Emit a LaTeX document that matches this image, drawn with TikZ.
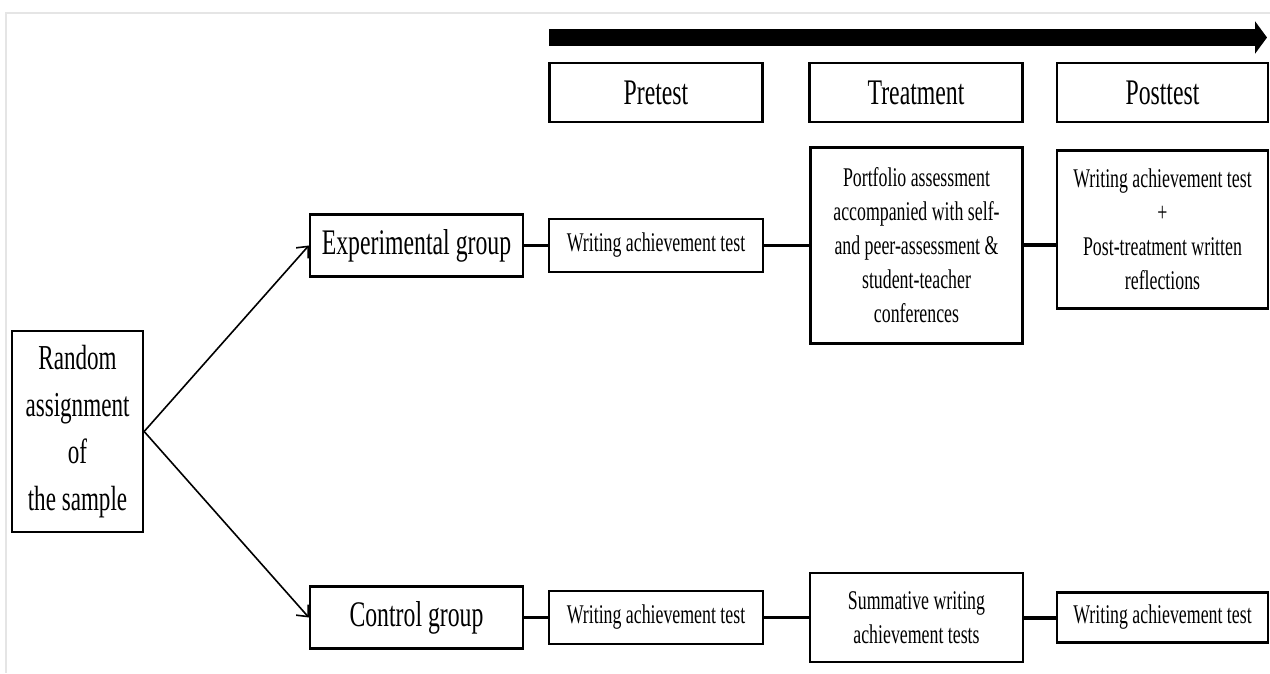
\documentclass[tikz,border=0pt]{standalone}
\usepackage{fontspec}
\setmainfont{Liberation Serif}[FakeStretch=0.66]
\usetikzlibrary{arrows.meta}

\newcommand{\smalltxt}{\fontsize{27}{34}\selectfont}
\newcommand{\bigtxt}{\fontsize{36}{43}\selectfont}

\begin{document}
\begin{tikzpicture}[
            x=1pt, y=1pt,
            every node/.style={draw, line width=2.3pt, align=center, inner sep=0pt, font=\smalltxt},
            grp/.style={minimum width=213pt, minimum height=62pt, font=\bigtxt},
            test/.style={minimum width=214pt, minimum height=53pt},
            head/.style={minimum width=213pt, minimum height=59pt, font=\bigtxt},
            grow'=right,
            level 1/.style={sibling distance=372pt, level distance=339pt,
              edge from parent path={(\tikzparentnode.east) -- (\tikzchildnode.west)},
              edge from parent/.style={draw, line width=1.6pt, -{Straight Barb[length=9pt, width=16pt]}}},
            level 2/.style={level distance=239.5pt,
              edge from parent path={(\tikzparentnode.east) -- (\tikzparentnode.east -| \tikzchildnode.west)},
              edge from parent/.style={draw, line width=2.2pt}},
            level 3/.style={level distance=260.5pt},
            level 4/.style={level distance=246pt,
              edge from parent/.style={draw, line width=4pt}},
            ]
            \useasboundingbox (0,0) rectangle (1270,673);
            \draw[gray!20, line width=1.5pt] (6,0) -- (6,660) -- (1270,660);

            % time line over the three phases
            \coordinate (tlstart) at (549,635.5);
            \coordinate (tlend) at (1267,635.5);
            \draw[line width=17pt, -{Triangle[length=12pt, width=32pt]}] (tlstart) -- (tlend);
            \node (pretest) [head] at (656,580.5) {Pretest};
            \node (treatment) [head] at (916,580.5) {Treatment};
            \node (posttest) [head, minimum width=211pt] at (1162.5,580.5) {Posttest};

            \node (rand) at (77.5,237) [yshift=4.5pt, minimum width=131pt, minimum height=201pt, font=\fontsize{35}{47}\selectfont] {Random\\assignment\\of\\ the sample}
            child {node (expgrp) [grp] {Experimental group}
              child {node (exppre) [test] {Writing achievement test}
                child {node (exptreat) [minimum width=212pt, minimum height=196pt] {Portfolio assessment\\accompanied with self-\\and peer-assessment \&\\student-teacher\\conferences}
                  child {node (exppost) [yshift=16pt, minimum width=211pt, minimum height=158pt] {Writing achievement test\\+\\Post-treatment written\\reflections}}
                }
              }
            }
            child {node (ctlgrp) [grp] {Control group}
              child {node (ctlpre) [test] {Writing achievement test}
                child {node (ctltreat) [minimum width=213pt, minimum height=89pt] {Summative writing\\achievement tests}
                  child {node (ctlpost) [minimum width=211pt, minimum height=50pt] {Writing achievement test}}
                }
              }
            };
            \end{tikzpicture}
\end{document}
